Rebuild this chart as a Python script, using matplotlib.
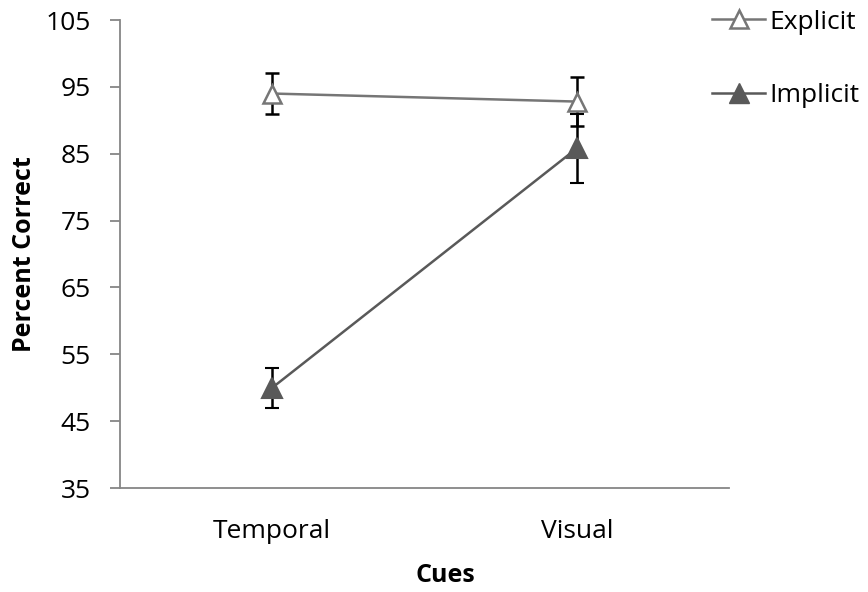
import matplotlib
matplotlib.use("Agg")
import matplotlib.pyplot as plt
from matplotlib.lines import Line2D

categories = ["Temporal", "Visual"]
explicit = [94.0, 92.8]
explicit_err = [3.0, 3.7]
implicit = [50.0, 85.8]
implicit_err = [3.0, 5.2]
yticks = [35, 45, 55, 65, 75, 85, 95, 105]

plt.rcParams['font.family'] = ['Open Sans', 'DejaVu Sans']
FS = 19

fig = plt.figure(figsize=(8.68, 5.92), dpi=100)
ax = fig.add_axes([120/868, 1-488/592, 609/868, 468/592])

x = list(range(len(categories)))
ax.errorbar(x, explicit, yerr=explicit_err, color='#767676', lw=1.8,
            marker='^', ms=13, mfc='white', mec='#767676', mew=1.8,
            ecolor='black', elinewidth=1.8, capsize=5, capthick=1.8,
            label='Explicit', zorder=3)
ax.errorbar(x, implicit, yerr=implicit_err, color='#595959', lw=1.8,
            marker='^', ms=14, mfc='#595959', mec='#595959', mew=1.5,
            ecolor='black', elinewidth=1.8, capsize=5, capthick=1.8,
            label='Implicit', zorder=3)

ax.set_xlim(-0.5, 1.5)
ax.set_ylim(35, 105)
ax.set_yticks(yticks)
ax.set_xticks(x)
ax.set_xticklabels(categories)
for s in ['top', 'right']:
    ax.spines[s].set_visible(False)
for s in ['left', 'bottom']:
    ax.spines[s].set_color('#868686')
    ax.spines[s].set_linewidth(1.3)
ax.tick_params(axis='y', length=7, width=1.3, color='#868686', labelsize=FS, pad=14)
ax.tick_params(axis='x', length=0, labelsize=FS, pad=22)
ax.set_ylabel('Percent Correct', fontsize=18, fontweight='bold')
ax.yaxis.set_label_coords((37-120)/609, 0.5)
ax.set_xlabel('Cues', fontsize=18, fontweight='bold')
ax.xaxis.set_label_coords((445-120)/609, -0.16)

h1 = Line2D([], [], color='#767676', lw=1.8, marker='^', ms=13, mfc='white', mec='#767676', mew=1.8)
h2 = Line2D([], [], color='#595959', lw=1.8, marker='^', ms=14, mfc='#595959', mec='#595959')
fig.legend([h1, h2], ['Explicit', 'Implicit'], loc='upper left',
           bbox_to_anchor=(694/868, 1.015), frameon=False, fontsize=FS,
           handlelength=2.0, handletextpad=0.15, labelspacing=1.85, borderaxespad=0.3)

fig.savefig('out.png', dpi=100)
